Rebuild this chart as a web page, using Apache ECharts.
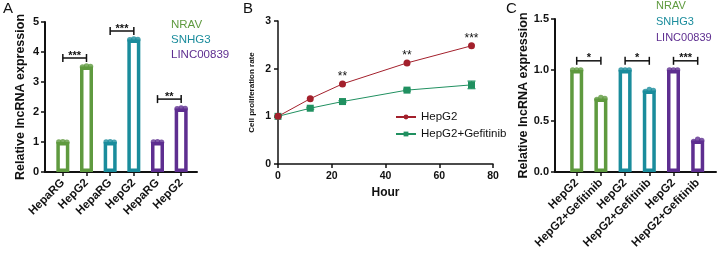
<!DOCTYPE html>
<html>
<head>
<meta charset="utf-8">
<script src="https://cdn.jsdelivr.net/npm/echarts@6/dist/echarts.min.js"></script>
<style>
  html, body { margin: 0; padding: 0; background: #fff; }
  #chart { width: 718px; height: 254px; }
</style>
</head>
<body>
<div id="chart"></div>
<script>
// ---- data ----
const lncNames = ["NRAV", "SNHG3", "LINC00839"];
const lncColors = ["#5f9a3f", "#1a8c9c", "#5e2e90"];

// panel A
const catA = ["HepaRG", "HepG2", "HepaRG", "HepG2", "HepaRG", "HepG2"];
const meanA = [1.00, 3.52, 1.00, 4.42, 1.00, 2.12];
const repsA = [[1.00, 1.01, 0.99], [3.50, 3.53, 3.52], [1.00, 1.01, 0.99],
               [4.41, 4.43, 4.42], [1.00, 1.01, 0.99], [2.11, 2.13, 2.12]];
const sigA = [[0, 1, 3.8], [2, 3, 4.7], [4, 5, 2.43]];
const sigTextA = ["***", "***", "**"];

// panel B
const hours = [0, 12, 24, 48, 72];
const hepg2 = [1.00, 1.37, 1.68, 2.12, 2.48];
const hepg2Gef = [1.00, 1.17, 1.31, 1.55, 1.66];
const gefErr = [0.01, 0.02, 0.02, 0.02, 0.08];
const sigB = ["", "", "**", "**", "***"];

// panel C
const catC = ["HepG2", "HepG2+Gefitinib", "HepG2", "HepG2+Gefitinib", "HepG2", "HepG2+Gefitinib"];
const meanC = [1.00, 0.72, 1.00, 0.80, 1.00, 0.31];
const repsC = [[1.00, 1.00, 1.00], [0.71, 0.73, 0.72], [1.00, 1.00, 1.00],
               [0.79, 0.81, 0.80], [1.00, 1.00, 1.00], [0.30, 0.32, 0.31]];
const sigC = [[0, 1, 1.09], [2, 3, 1.09], [4, 5, 1.09]];
const sigTextC = ["*", "*", "***"];

const FONT = "'Liberation Sans', Arial, Helvetica, sans-serif";
const INK = "#111";

function bracket(labels) {
  return function(params, api) {
    const y = api.value(2);
    const p1 = api.coord([api.value(0), y]);
    const p2 = api.coord([api.value(1), y]);
    const st = { stroke: INK, lineWidth: 1.5 };
    return {
      type: "group",
      children: [
        { type: "line", shape: { x1: p1[0], y1: p1[1], x2: p2[0], y2: p2[1] }, style: st },
        { type: "line", shape: { x1: p1[0], y1: p1[1] - 4, x2: p1[0], y2: p1[1] + 4 }, style: st },
        { type: "line", shape: { x1: p2[0], y1: p2[1] - 4, x2: p2[0], y2: p2[1] + 4 }, style: st },
        {
          type: "text",
          x: (p1[0] + p2[0]) / 2,
          y: p1[1] - 8,
          style: { text: labels[params.dataIndex], fill: INK, font: "bold 11px " + FONT,
                   textAlign: "center", textVerticalAlign: "top" }
        }
      ]
    };
  };
}

function barPanel(axisIdx, means, reps, sig, sigText) {
  let out = [];
  lncNames.forEach(function(name, k) {
    out.push({
      type: "bar", name: name,
      xAxisIndex: axisIdx, yAxisIndex: axisIdx,
      barWidth: 13, barGap: "-100%",
      data: means.map(function(v, i) { return Math.floor(i / 2) === k ? v : "-"; }),
      itemStyle: { color: "#fff", borderColor: lncColors[k], borderWidth: 3.5 },
      silent: true
    });
  });
  [-4, 0, 4].forEach(function(off, r) {
    out.push({
      type: "scatter",
      xAxisIndex: axisIdx, yAxisIndex: axisIdx,
      symbolSize: 5.5, symbolOffset: [off, 0], z: 4,
      data: reps.map(function(rr) { return rr[r]; }),
      itemStyle: { color: function(p) { return lncColors[Math.floor(p.dataIndex / 2)]; } }
    });
  });
  out.push({
    type: "custom",
    xAxisIndex: axisIdx, yAxisIndex: axisIdx,
    data: sig, encode: { x: [0, 1], y: 2 },
    renderItem: bracket(sigText), z: 5
  });
  return out;
}

let series = [];
series = series.concat(barPanel(0, meanA, repsA, sigA, sigTextA));
series = series.concat(barPanel(2, meanC, repsC, sigC, sigTextC));

series.push({
  type: "custom",
  xAxisIndex: 1, yAxisIndex: 1,
  data: hours.map(function(h, i) { return [h, hepg2Gef[i] - gefErr[i], hepg2Gef[i] + gefErr[i]]; }),
  encode: { x: 0, y: [1, 2] },
  renderItem: function(params, api) {
    const lo = api.coord([api.value(0), api.value(1)]);
    const hi = api.coord([api.value(0), api.value(2)]);
    const st = { stroke: "#2a9a6a", lineWidth: 1.2 };
    return {
      type: "group",
      children: [
        { type: "line", shape: { x1: lo[0], y1: lo[1], x2: hi[0], y2: hi[1] }, style: st },
        { type: "line", shape: { x1: lo[0] - 4, y1: lo[1], x2: lo[0] + 4, y2: lo[1] }, style: st },
        { type: "line", shape: { x1: hi[0] - 4, y1: hi[1], x2: hi[0] + 4, y2: hi[1] }, style: st }
      ]
    };
  }
});
series.push({
  type: "line", name: "HepG2Gef",
  xAxisIndex: 1, yAxisIndex: 1,
  data: hours.map(function(h, i) { return [h, hepg2Gef[i]]; }),
  symbol: "rect", symbolSize: 7,
  lineStyle: { color: "#209060", width: 1 },
  itemStyle: { color: "#209060" }
});
series.push({
  type: "line", name: "HepG2",
  xAxisIndex: 1, yAxisIndex: 1,
  data: hours.map(function(h, i) { return [h, hepg2[i]]; }),
  symbol: "circle", symbolSize: 7,
  lineStyle: { color: "#a3202c", width: 1 },
  itemStyle: { color: "#a3202c" },
  label: {
    show: true, position: "top", offset: [0, 7],
    formatter: function(p) { return sigB[p.dataIndex]; },
    font: "bold 11px " + FONT, color: INK
  }
});

const axisLine2 = { show: true, lineStyle: { color: INK, width: 2 } };
const tick = { show: true, length: 4, lineStyle: { color: INK, width: 1.5 } };
const tickLabel = { color: INK, fontFamily: FONT, fontWeight: "bold", fontSize: 11 };

function lineOnlyX(grid) {
  return {
    type: "value", gridIndex: grid, min: 0, max: 1,
    axisLine: axisLine2, axisTick: { show: false }, axisLabel: { show: false }, splitLine: { show: false }
  };
}

let option = {
  animation: false,
  textStyle: { fontFamily: FONT },
  title: [
    { text: "A", left: 3, top: 1, padding: 0, textStyle: { fontSize: 15, fontWeight: "normal", color: INK } },
    { text: "B", left: 243, top: 1, padding: 0, textStyle: { fontSize: 15, fontWeight: "normal", color: INK } },
    { text: "C", left: 506, top: 1, padding: 0, textStyle: { fontSize: 15, fontWeight: "normal", color: INK } }
  ],
  legend: [
    {
      data: lncNames.map(function(n, k) { return { name: n, textStyle: { color: lncColors[k] } }; }),
      orient: "vertical", left: 165, top: 17, padding: 0, itemWidth: 0, itemHeight: 0, itemGap: 0,
      selectedMode: false, textStyle: { fontSize: 11.5, lineHeight: 15 }
    },
    {
      data: [{ name: "HepG2" }, { name: "HepG2Gef" }],
      formatter: function(n) { return n === "HepG2" ? "HepG2" : "HepG2+Gefitinib"; },
      orient: "vertical", left: 395, top: 110, padding: 0, itemWidth: 20, itemHeight: 6, itemGap: 3,
      selectedMode: false, textStyle: { fontSize: 11.5, color: INK, lineHeight: 14 }
    },
    {
      data: lncNames.map(function(n, k) { return { name: n, textStyle: { color: lncColors[k] } }; }),
      orient: "vertical", left: 650, top: -2, padding: 0, itemWidth: 0, itemHeight: 0, itemGap: 0,
      selectedMode: false, textStyle: { fontSize: 11, lineHeight: 16 }
    }
  ],
  grid: [
    { left: 51, top: 22, width: 142, height: 150, outerBoundsMode: "none" },
    { left: 278, top: 21, width: 215, height: 143, outerBoundsMode: "none" },
    { left: 564.6, top: 19, width: 145.2, height: 153, outerBoundsMode: "none" },
    { left: 45, top: 22, width: 152, height: 150, outerBoundsMode: "none" },
    { left: 555, top: 19, width: 161, height: 153, outerBoundsMode: "none" }
  ],
  xAxis: [
    {
      type: "category", gridIndex: 0, data: catA,
      axisLine: { show: false }, axisTick: Object.assign({ alignWithLabel: true }, tick),
      axisLabel: Object.assign({ rotate: 45, interval: 0, margin: 9 }, tickLabel, { fontSize: 11.5 })
    },
    {
      type: "value", gridIndex: 1, min: 0, max: 80, interval: 20,
      axisLine: { show: true, lineStyle: { color: INK, width: 1.5 } }, axisTick: tick,
      axisLabel: Object.assign({ margin: 7 }, tickLabel, { fontSize: 10.5 }),
      splitLine: { show: false },
      name: "Hour", nameLocation: "middle", nameGap: 23,
      nameTextStyle: { color: INK, fontWeight: "bold", fontSize: 12, fontFamily: FONT }
    },
    {
      type: "category", gridIndex: 2, data: catC,
      axisLine: { show: false }, axisTick: Object.assign({ alignWithLabel: true }, tick),
      axisLabel: Object.assign({ rotate: 45, interval: 0, margin: 9 }, tickLabel, { fontSize: 11.5 })
    },
    lineOnlyX(3),
    lineOnlyX(4)
  ],
  yAxis: [
    {
      type: "value", gridIndex: 0, min: 0, max: 5, interval: 1, offset: 6,
      axisLine: axisLine2, axisTick: tick, axisLabel: Object.assign({ margin: 6 }, tickLabel),
      splitLine: { show: false },
      name: "Relative lncRNA expression", nameLocation: "middle", nameGap: 18,
      nameTextStyle: { color: INK, fontWeight: "bold", fontSize: 12.5, fontFamily: FONT }
    },
    {
      type: "value", gridIndex: 1, min: 0, max: 3, interval: 1,
      axisLine: { show: true, lineStyle: { color: INK, width: 1.5 } }, axisTick: tick,
      axisLabel: Object.assign({ margin: 7 }, tickLabel, { fontSize: 10.5 }),
      splitLine: { show: false },
      name: "Cell proliferation rate", nameLocation: "middle", nameGap: 22,
      nameTextStyle: { color: INK, fontWeight: "bold", fontSize: 8, fontFamily: FONT }
    },
    {
      type: "value", gridIndex: 2, min: 0, max: 1.5, interval: 0.5, offset: 9.6,
      axisLine: axisLine2, axisTick: tick,
      axisLabel: Object.assign({ margin: 6, formatter: function(v) { return v.toFixed(1); } }, tickLabel),
      splitLine: { show: false },
      name: "Relative lncRNA expression", nameLocation: "middle", nameGap: 23,
      nameTextStyle: { color: INK, fontWeight: "bold", fontSize: 12.5, fontFamily: FONT }
    },
    { type: "value", gridIndex: 3, show: false },
    { type: "value", gridIndex: 4, show: false }
  ],
  series: series
};

let myChart = echarts.init(document.getElementById("chart"));
myChart.setOption(option);
</script>
</body>
</html>
